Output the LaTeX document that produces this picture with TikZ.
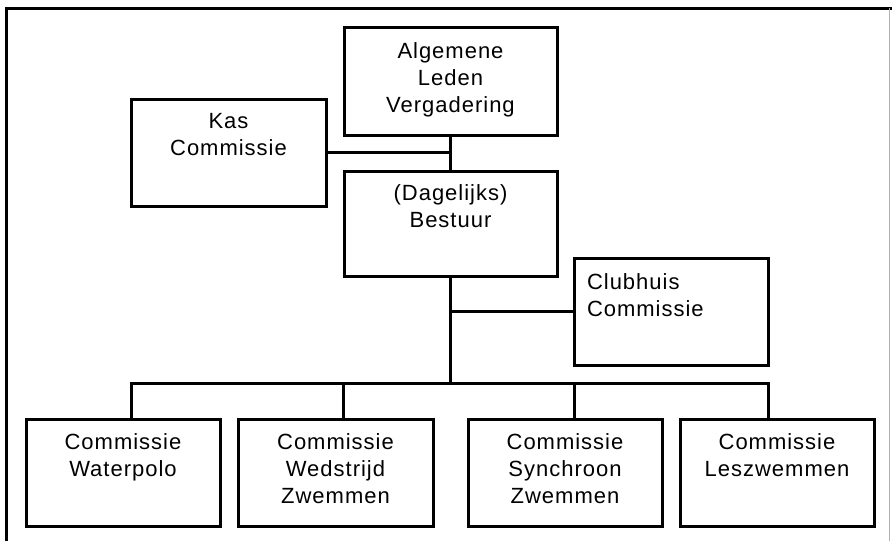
\documentclass[tikz,border=0pt]{standalone}
\usepackage{fontspec}
\setmainfont{Liberation Sans}[LetterSpace=4.5]
\newcommand\orgtext[4]{\parbox[t][#2][t]{#1}{\centering\rule{0pt}{#3}#4}}
\newcommand\orgtextleft[4]{\parbox[t][#2][t]{#1}{\raggedright\leftskip=13pt\rule{0pt}{#3}#4}}
\begin{document}
\begin{tikzpicture}[x=1pt,y=-1pt,
  box/.style={draw, line width=3pt, inner sep=0pt, outer sep=0pt, font=\fontsize{22}{27}\selectfont},
  conn/.style={line width=3pt},
  frame/.style={line width=3pt}]
\path[use as bounding box] (0,0) rectangle (892,541);
% outer frame
\draw[frame] (6,548) -- (6,8) -- (896,8);
\draw[gray!60, line width=1pt] (889,8) -- (889,548);
% boxes
\node[box] (alv)  at (450.5,81)    {\orgtext{213pt}{108pt}{31pt}{Algemene\\Leden\\Vergadering}};
\node[box] (kas)  at (228.5,152.5) {\orgtext{195pt}{107pt}{29pt}{Kas\\Commissie}};
\node[box] (best) at (450.5,223.5) {\orgtext{213pt}{105pt}{29pt}{(Dagelijks)\\Bestuur}};
\node[box] (club) at (671,311.5)   {\orgtextleft{194pt}{107pt}{31pt}{Clubhuis\\Commissie}};
\node[box] (wp)   at (123,472.5)   {\orgtext{194pt}{107pt}{30pt}{Commissie\\Waterpolo}};
\node[box] (wz)   at (335.5,472.5) {\orgtext{195pt}{107pt}{30pt}{Commissie\\Wedstrijd\\Zwemmen}};
\node[box] (sz)   at (565,472.5)   {\orgtext{194pt}{107pt}{30pt}{Commissie\\Synchroon\\Zwemmen}};
\node[box] (lz)   at (777,472.5)   {\orgtext{194pt}{107pt}{30pt}{Commissie\\Leszwemmen}};
% connectors
\coordinate (busy) at (0,383);
\coordinate (d1) at ([xshift=8pt]wp.north);
\coordinate (d2) at ([xshift=8pt]wz.north);
\coordinate (d3) at ([xshift=9pt]sz.north);
\coordinate (d4) at ([xshift=-9pt]lz.north);
\draw[conn] (alv.south) -- (best.north);
\draw[conn] (kas.east) -- (kas.east -| alv.south);
\draw[conn] (best.south) -- (best.south |- busy);
\draw[conn] (best.south |- club.west) -- (club.west);
\draw[conn] (d1) -- (d1 |- busy) -- (d4 |- busy) -- (d4);
\draw[conn] (d2) -- (d2 |- busy);
\draw[conn] (d3) -- (d3 |- busy);
\end{tikzpicture}
\end{document}
